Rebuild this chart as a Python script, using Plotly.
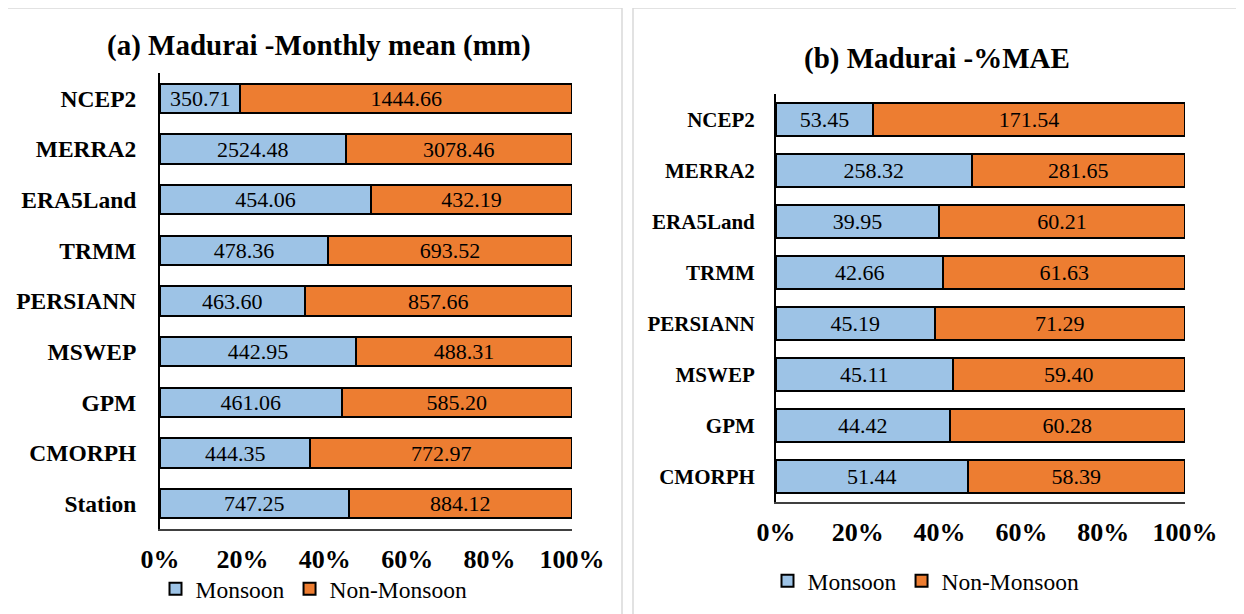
import plotly.graph_objects as go

# (a) Monthly mean (mm)
cats_a = ["NCEP2", "MERRA2", "ERA5Land", "TRMM", "PERSIANN", "MSWEP", "GPM", "CMORPH", "Station"]
monsoon_a = [350.71, 2524.48, 454.06, 478.36, 463.60, 442.95, 461.06, 444.35, 747.25]
nonmonsoon_a = [1444.66, 3078.46, 432.19, 693.52, 857.66, 488.31, 585.20, 772.97, 884.12]

# (b) %MAE
cats_b = ["NCEP2", "MERRA2", "ERA5Land", "TRMM", "PERSIANN", "MSWEP", "GPM", "CMORPH"]
monsoon_b = [53.45, 258.32, 39.95, 42.66, 45.19, 45.11, 44.42, 51.44]
nonmonsoon_b = [171.54, 281.65, 60.21, 61.63, 71.29, 59.40, 60.28, 58.39]

tick_vals = [0, 20, 40, 60, 80, 100]
tick_text = ["0%", "20%", "40%", "60%", "80%", "100%"]

BLUE = "#9DC3E6"
ORANGE = "#ED7D31"
FONT = "Times New Roman, Liberation Serif, serif"
W, H = 1244, 614
OFF = 8  # page body margin


# screen pixel -> paper fraction
def px_x(p):
    return (p - OFF) / W


def px_y(p):
    return 1 - (p - OFF) / H


fig = go.Figure()


def add_pair(cats, mon, non, xa, ya, legend, width):
    for name, vals, col in [("Monsoon", mon, BLUE), ("Non-Monsoon", non, ORANGE)]:
        fig.add_trace(go.Bar(
            y=cats, x=vals, orientation="h", name=name,
            marker=dict(color=col, line=dict(color="black", width=2)),
            text=[f"{v:.2f}" for v in vals],
            textposition="inside", insidetextanchor="middle", textangle=0,
            constraintext="none",
            textfont=dict(family=FONT, size=22, color="black"),
            width=width, xaxis=xa, yaxis=ya, legend=legend,
            hoverinfo="skip",
        ))


add_pair(cats_a, monsoon_a, nonmonsoon_a, "x", "y", "legend", 0.58)
add_pair(cats_b, monsoon_b, nonmonsoon_b, "x2", "y2", "legend2", 0.64)

xcommon = dict(range=[0, 100], tickvals=tick_vals, ticktext=tick_text, showgrid=False,
               zeroline=False, showline=True, linecolor="#404040", linewidth=2,
               ticks="", ticklabelstandoff=6, automargin=False,
               tickfont=dict(family=FONT, size=26, color="black", weight="bold"))
ycommon = dict(autorange="reversed", showgrid=False, zeroline=False, showline=True,
               linecolor="black", linewidth=2, ticks="", automargin=False)

fig.update_layout(
    width=W, height=H, margin=dict(l=0, r=0, t=0, b=0, autoexpand=False),
    paper_bgcolor="white", plot_bgcolor="white",
    barmode="stack", barnorm="percent",
    xaxis=dict(domain=[px_x(160), px_x(572)], anchor="y", **xcommon),
    yaxis=dict(domain=[px_y(529), px_y(73)], anchor="x", ticklabelstandoff=17,
               tickfont=dict(family=FONT, size=23.5, color="black", weight="bold"), **ycommon),
    xaxis2=dict(domain=[px_x(776), px_x(1185)], anchor="y2", **xcommon),
    yaxis2=dict(domain=[px_y(502), px_y(94)], anchor="x2", ticklabelstandoff=15,
                tickfont=dict(family=FONT, size=21, color="black", weight="bold"), **ycommon),
    legend=dict(orientation="h", x=px_x(314), xanchor="center", y=px_y(589), yanchor="middle",
                font=dict(family=FONT, size=23.5, color="black"), traceorder="normal",
                bgcolor="rgba(0,0,0,0)", itemwidth=30),
    legend2=dict(orientation="h", x=px_x(926), xanchor="center", y=px_y(581), yanchor="middle",
                 font=dict(family=FONT, size=23.5, color="black"), traceorder="normal",
                 bgcolor="rgba(0,0,0,0)", itemwidth=30),
    annotations=[
        dict(text="<b>(a) Madurai -Monthly mean (mm)</b>", x=px_x(319), y=px_y(45),
             xref="paper", yref="paper", showarrow=False, xanchor="center", yanchor="middle",
             font=dict(family=FONT, size=29, color="black")),
        dict(text="<b>(b) Madurai -%MAE</b>", x=px_x(937), y=px_y(58),
             xref="paper", yref="paper", showarrow=False, xanchor="center", yanchor="middle",
             font=dict(family=FONT, size=29, color="black")),
    ],
    shapes=[
        dict(type="rect", xref="paper", yref="paper", x0=px_x(7), x1=px_x(622),
             y0=-0.05, y1=px_y(8), line=dict(color="#d9d9d9", width=1.5)),
        dict(type="rect", xref="paper", yref="paper", x0=px_x(633), x1=px_x(1240),
             y0=-0.05, y1=px_y(8), line=dict(color="#d9d9d9", width=1.5)),
    ],
)

fig.write_html("out.html")
